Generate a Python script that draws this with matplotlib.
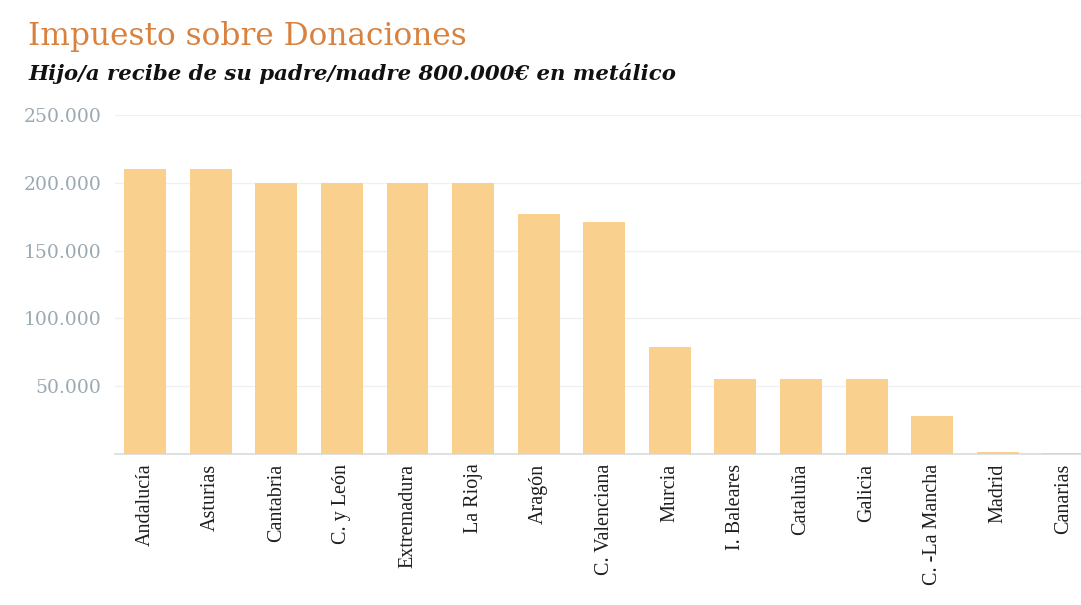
import matplotlib
matplotlib.use("Agg")
import matplotlib.pyplot as plt
from matplotlib.ticker import FuncFormatter

regions = ["Andalucía", "Asturias", "Cantabria", "C. y León", "Extremadura", "La Rioja",
           "Aragón", "C. Valenciana", "Murcia", "I. Baleares", "Cataluña", "Galicia",
           "C. -La Mancha", "Madrid", "Canarias"]
values = [210000, 210000, 200000, 200000, 200000, 200000,
          177000, 171000, 79000, 55000, 55000, 55000,
          28000, 1500, 700]
yticks = [50000, 100000, 150000, 200000, 250000]

fig = plt.figure(figsize=(10.81, 6.05), dpi=100)
ax = fig.add_axes([0.1064, 0.2496, 0.8936, 0.5604])

x = list(range(len(regions)))
ax.bar(x, values, width=0.64, color="#f9d08e", zorder=3)

ax.set_xlim(-0.46, 14.27)
ax.set_ylim(0, 250000)
ax.set_yticks(yticks)
ax.yaxis.set_major_formatter(FuncFormatter(lambda v, p: f"{int(v):,}".replace(",", ".")))
ax.grid(axis="y", color="#eef0f1", linewidth=1, zorder=0)
for s in ["top", "right", "left"]:
    ax.spines[s].set_visible(False)
ax.spines["bottom"].set_color("#d8dadb")
ax.spines["bottom"].set_linewidth(1.2)
ax.tick_params(axis="y", length=0, pad=10, labelsize=13.5, labelcolor="#9aa9b2")
ax.tick_params(axis="x", length=0, pad=7)
for lab in ax.get_yticklabels():
    lab.set_family("DejaVu Serif")
ax.set_xticks(x)
ax.set_xticklabels(regions, rotation=90, family="Liberation Serif", fontsize=14.5,
                   color="#1e1e1e", va="top", ha="center")

fig.text(0.026, 0.925, "Impuesto sobre Donaciones", family="DejaVu Serif",
         fontsize=22.5, color="#d9823f", va="baseline")
fig.text(0.026, 0.868, "Hijo/a recibe de su padre/madre 800.000€ en metálico",
         family="DejaVu Serif", fontsize=15.3, fontweight="bold", style="italic",
         color="#111111", va="baseline")

fig.savefig("out.png", dpi=100)
